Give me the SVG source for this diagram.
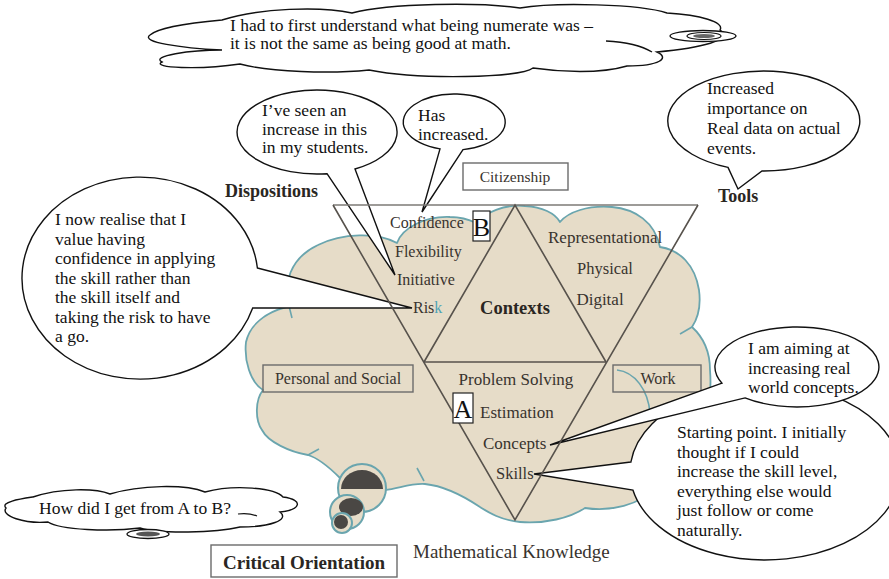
<svg xmlns="http://www.w3.org/2000/svg" width="889" height="579" viewBox="0 0 889 579">
<defs>
<style>
.lbl{font-family:"Liberation Serif",serif;fill:#38332e}
.hd{font-family:"Liberation Serif",serif;font-weight:bold;fill:#2a2622}
.bt{font-family:"Liberation Serif",serif;font-size:17.5px;fill:#111}
.bub{fill:#fff;stroke:#111;stroke-width:1.4;stroke-linejoin:miter}
.tri{stroke:#57524c;stroke-width:1.6;fill:none}
.box{fill:none;stroke:#6b6b6b;stroke-width:1.4}
.wbox{fill:#fff;stroke:#222;stroke-width:1.2}
.cloud{fill:#e6dcc8;stroke:#6aa5ae;stroke-width:1.8;stroke-linejoin:round}
.tick{fill:none;stroke:#6aa5ae;stroke-width:1.6}
.th{fill:#fff;stroke:#111;stroke-width:1.4}
</style>
</defs>
<rect width="889" height="579" fill="#fff"/>

<g id="main-cloud">
<path class="cloud" d="M 290,306 C 282,285 290,258 318,245 C 342,233 378,232 397,243 C 402,228 425,216 450,217 C 462,217 470,220 476,223 C 486,212 505,204 525,206 C 542,207 555,213 560,222 C 568,212 588,205 612,207 C 635,209 655,222 660,247 C 680,250 695,265 699,290 C 701,305 698,318 692,327 C 703,337 710,352 710,370 C 712,395 708,415 698,430 C 700,455 685,480 655,488 C 640,505 610,512 585,508 C 570,518 545,524 520,522 C 500,520 488,512 480,507 C 465,497 445,486 425,484 C 410,483 398,489 385,490 C 372,490 350,483 340,478 C 330,468 318,458 308,455 C 290,452 268,442 262,430 C 255,420 255,400 263,390 C 250,382 244,360 246,342 C 250,325 265,312 290,306 Z"/>
<path class="tick" d="M 289,306 L 292,318 M 308,455 L 319,449 M 417,468 L 424,481 M 692,327 L 680,334 M 617,370 C 635,372 648,390 650,413"/>
</g>

<g id="thought-circles">
<circle cx="362" cy="488" r="24" fill="#e6dcc8" stroke="#6aa5ae" stroke-width="2"/>
<path d="M 341,489 A 21 19 0 0 1 383,489 Z" fill="#4a4744"/>
<circle cx="347" cy="512" r="17" fill="#e6dcc8" stroke="#6aa5ae" stroke-width="2"/>
<ellipse cx="351" cy="507" rx="12" ry="9" fill="#4a4744"/>
<circle cx="342" cy="523" r="10" fill="#e6dcc8" stroke="#6aa5ae" stroke-width="2"/>
<circle cx="341" cy="522" r="7" fill="#4a4744"/>
</g>

<g id="labels">
<text class="lbl" x="390" y="228" font-size="16">Confidence</text>
<text class="lbl" x="395" y="257" font-size="16">Flexibility</text>
<text class="lbl" x="397" y="285" font-size="16">Initiative</text>
<text class="lbl" x="413" y="313" font-size="16">Ris<tspan fill="#4fa3b5">k</tspan></text>
<text class="hd" x="515" y="314" font-size="18.5" text-anchor="middle">Contexts</text>
<text class="lbl" x="548" y="243" font-size="17">Representational</text>
<text class="lbl" x="605" y="274" font-size="16.5" text-anchor="middle">Physical</text>
<text class="lbl" x="600" y="305" font-size="17" text-anchor="middle">Digital</text>
<text class="lbl" x="516" y="385" font-size="17" text-anchor="middle">Problem Solving</text>
<text class="lbl" x="480" y="418" font-size="17">Estimation</text>
<text class="lbl" x="483" y="449" font-size="17">Concepts</text>
<text class="lbl" x="496" y="479" font-size="16.5">Skills</text>
<text class="hd" x="225" y="197" font-size="18">Dispositions</text>
<text class="hd" x="718" y="202" font-size="18">Tools</text>
<text class="lbl" x="413" y="558" font-size="19">Mathematical Knowledge</text>
</g>

<g id="boxes">
<g id="citizenship"><rect class="box" x="463" y="163" width="105" height="27"/><text class="lbl" x="515" y="182" font-size="15.5" text-anchor="middle">Citizenship</text></g>
<g id="personal-social"><rect class="box" x="263" y="365" width="150" height="27"/><text class="lbl" x="338" y="384" font-size="16" text-anchor="middle">Personal and Social</text></g>
<g id="work"><rect class="box" x="613" y="365" width="88" height="27"/><text class="lbl" x="658" y="384" font-size="16" text-anchor="middle">Work</text></g>
<g id="critical"><rect class="box" x="211" y="545" width="186" height="32"/><text class="hd" x="304" y="569" font-size="19" text-anchor="middle">Critical Orientation</text></g>
</g>

<g id="top-cloud">
<path class="th" d="M 222,20 C 260,8 320,6 352,13 C 390,3 480,2 520,8 C 555,2 640,4 667,13 C 700,15 725,22 720,30 C 735,40 700,48 657,52 C 670,58 660,66 627,66 C 600,74 560,72 533,68 C 520,78 420,80 369,70 C 330,74 270,72 240,64 C 200,70 150,68 162,62 C 150,56 190,50 222,50 C 180,48 140,42 150,35 C 160,26 200,22 222,20 Z"/>
<path d="M 606,41 C 625,42 642,46 652,52" fill="none" stroke="#111" stroke-width="1.4"/>
<ellipse cx="703" cy="36" rx="33" ry="5.5" fill="#fff" stroke="#111" stroke-width="1.4"/>
<ellipse cx="704" cy="36" rx="17" ry="3.5" fill="#fff" stroke="#111" stroke-width="1.2"/>
<ellipse cx="704" cy="36" rx="11" ry="2" fill="#666"/>
<text class="bt" font-size="18"><tspan x="230" y="31">I had to first understand what being numerate was –</tspan><tspan x="230" y="49">it is not the same as being good at math.</tspan></text>
</g>

<g id="ab-cloud">
<path class="th" d="M 33,497 C 60,488 95,488 110,494 C 140,485 185,484 205,492 C 235,484 275,488 283,497 C 305,500 300,510 280,512 C 290,520 270,527 240,527 C 215,533 160,534 140,528 C 110,532 60,530 48,522 C 25,524 0,516 6,508 C 0,502 20,499 33,497 Z"/>
<path d="M 238,514 C 245,513 252,514 257,516" fill="none" stroke="#111" stroke-width="1.2"/>
<ellipse cx="148" cy="534" rx="21" ry="4.5" fill="#fff" stroke="#111" stroke-width="1.3"/>
<ellipse cx="148" cy="534" rx="12" ry="2.5" fill="#555"/>
<text class="bt" x="39" y="514" font-size="18">How did I get from A to B?</text>
</g>

<g id="bubble-seen">
<path class="bub" d="M 327,173.7 L 395,275 L 355,169 A 80 42 0 1 0 327,173.7 Z"/>
<text class="bt"><tspan x="262" y="116">I’ve seen an</tspan><tspan x="262" y="134.5">increase in this</tspan><tspan x="262" y="153">in my students.</tspan></text>
</g>
<g id="bubble-has">
<path class="bub" d="M 440,148.9 L 422,212 L 463,149.6 A 51 28 0 1 0 440,148.9 Z"/>
<text class="bt"><tspan x="418" y="121">Has</tspan><tspan x="418" y="139.5">increased.</tspan></text>
</g>
<g id="bubble-realise">
<path class="bub" d="M 257.4,268 L 412,308 L 252.7,308 A 118 101 0 1 1 257.4,268 Z"/>
<text class="bt"><tspan x="55" y="225">I now realise that I</tspan><tspan x="55" y="244.5">value having</tspan><tspan x="55" y="264">confidence in applying</tspan><tspan x="55" y="283.5">the skill rather than</tspan><tspan x="55" y="303">the skill itself and</tspan><tspan x="55" y="322.5">taking the risk to have</tspan><tspan x="55" y="342">a go.</tspan></text>
</g>
<g id="bubble-increased">
<path class="bub" d="M 728,167.4 L 738,189 L 762,171 A 96 50 0 1 0 728,167.4 Z"/>
<text class="bt"><tspan x="707" y="94">Increased</tspan><tspan x="707" y="114">importance on</tspan><tspan x="707" y="134">Real data on actual</tspan><tspan x="707" y="154">events.</tspan></text>
</g>
<g id="bubble-starting">
<path class="bub" d="M 630.9,462 L 534,474 L 632.9,490 A 135 88 0 1 0 630.9,462 Z"/>
<text class="bt"><tspan x="677" y="438">Starting point. I initially</tspan><tspan x="677" y="457.5">thought if I could</tspan><tspan x="677" y="477">increase the skill level,</tspan><tspan x="677" y="496.5">everything else would</tspan><tspan x="677" y="516">just follow or come</tspan><tspan x="677" y="535.5">naturally.</tspan></text>
</g>
<g id="bubble-aiming">
<path class="bub" d="M 722,383.2 L 550,445 L 745,397.9 A 82 40 0 1 0 722,383.2 Z"/>
<text class="bt"><tspan x="748" y="354">I am aiming at</tspan><tspan x="748" y="373.5">increasing real</tspan><tspan x="748" y="393">world concepts.</tspan></text>
</g>

<g id="connectors">
<line x1="333" y1="205" x2="698" y2="205" stroke="#7d7a76" stroke-width="1.6"/>
<polyline class="tri" points="333,205 515,520 698,205"/>
<polyline class="tri" points="424,362 515,205 606,362"/>
<line class="tri" x1="424" y1="362" x2="606" y2="362"/>
</g>

<g id="marker-A"><rect class="wbox" x="453" y="393" width="20" height="30"/><text x="463" y="418" font-family="Liberation Serif, serif" font-size="26" text-anchor="middle" fill="#111">A</text></g>
<g id="marker-B"><rect class="wbox" x="473" y="211" width="17" height="30"/><text x="481.5" y="236" font-family="Liberation Serif, serif" font-size="26" text-anchor="middle" fill="#111">B</text></g>
</svg>
